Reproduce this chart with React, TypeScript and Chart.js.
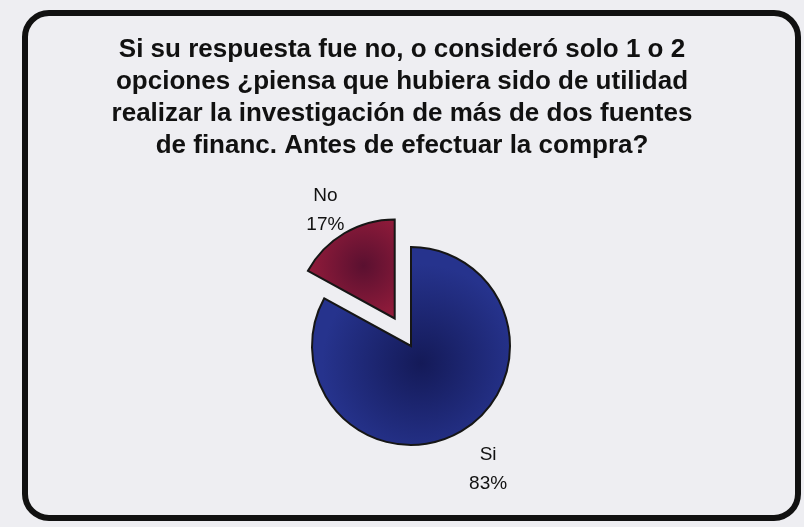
import React, { useEffect, useRef } from "react";
import { Chart, registerables } from "chart.js";

Chart.register(...registerables);

const TITLE_LINES = [
  "Si su respuesta fue no, o consideró solo 1 o 2",
  "opciones ¿piensa que hubiera sido de utilidad",
  "realizar la investigación de más de dos fuentes",
  "de financ. Antes de efectuar la compra?",
];
const CATEGORIES = ["Si", "No"];
const VALUES = [83, 17];
const PERCENT_LABELS = ["83%", "17%"];

const OUTER_COLORS = ["#26338d", "#951c3b"];
const INNER_COLORS = ["#141a58", "#5a1030"];
const EXPLODE = [0, 32];
const RADIUS = 99;

function sliceGeom(chart: any, i: number) {
  const area = chart.chartArea;
  const cx = (area.left + area.right) / 2;
  const cy = (area.top + area.bottom) / 2;
  const data = chart.data.datasets[0].data as number[];
  const total = data.reduce((a, b) => a + b, 0);
  let before = 0;
  for (let k = 0; k < i; k++) before += data[k];
  const a0 = (before / total) * Math.PI * 2;
  const a1 = ((before + data[i]) / total) * Math.PI * 2;
  const mid = (a0 + a1) / 2;
  return { cx, cy, mid, dx: Math.sin(mid), dy: -Math.cos(mid) };
}

const gradientFill = (ctx: any) => {
  const chart = ctx.chart;
  const i = ctx.dataIndex;
  if (!chart.chartArea) return OUTER_COLORS[i];
  const g = sliceGeom(chart, i);
  const f = i === 0 ? 0.2 : 0.62;
  const off = EXPLODE[i];
  const gx = g.cx + g.dx * (off + RADIUS * f);
  const gy = g.cy + g.dy * (off + RADIUS * f);
  const grad = chart.ctx.createRadialGradient(gx, gy, 0, gx, gy, RADIUS * (i === 0 ? 1.0 : 0.6));
  grad.addColorStop(0, INNER_COLORS[i]);
  grad.addColorStop(1, OUTER_COLORS[i]);
  return grad;
};

const explodePlugin = {
  id: "explode",
  afterDatasetsUpdate(chart: any) {
    const meta = chart.getDatasetMeta(0);
    meta.data.forEach((arc: any, i: number) => {
      const d = EXPLODE[i] || 0;
      if (!d) return;
      const mid = (arc.startAngle + arc.endAngle) / 2;
      arc.x += Math.cos(mid) * d;
      arc.y += Math.sin(mid) * d;
    });
  },
};

const decorPlugin = {
  id: "decor",
  beforeDraw(chart: any) {
    const c = chart.ctx;
    c.save();
    c.fillStyle = "#eeeef2";
    c.fillRect(0, 0, chart.width, chart.height);
    const x0 = 25, y0 = 13, x1 = 798, y1 = 518, r = 24;
    c.beginPath();
    c.moveTo(x0 + r, y0);
    c.lineTo(x1 - r, y0);
    c.arcTo(x1, y0, x1, y0 + r, r);
    c.lineTo(x1, y1 - r);
    c.arcTo(x1, y1, x1 - r, y1, r);
    c.lineTo(x0 + r, y1);
    c.arcTo(x0, y1, x0, y1 - r, r);
    c.lineTo(x0, y0 + r);
    c.arcTo(x0, y0, x0 + r, y0, r);
    c.closePath();
    c.lineWidth = 6;
    c.strokeStyle = "#111111";
    c.stroke();
    c.restore();
  },
  afterDraw(chart: any) {
    const c = chart.ctx;
    c.save();
    c.fillStyle = "#111111";
    c.textAlign = "center";
    c.textBaseline = "middle";
    c.font = "bold 26px 'Liberation Sans', Arial, sans-serif";
    TITLE_LINES.forEach((line, k) => {
      c.fillText(line, 402, 50 + k * 32);
    });
    // data labels
    c.font = "19px 'Liberation Sans', Arial, sans-serif";
    const meta = chart.getDatasetMeta(0);
    const labelAngles = [148, null];
    const labelDist = [1.47, 1.3];
    meta.data.forEach((arc: any, i: number) => {
      const g = sliceGeom(chart, i);
      const ang = labelAngles[i] != null ? ((labelAngles[i] as number) * Math.PI) / 180 : g.mid - 0.035;
      const dx = Math.sin(ang), dy = -Math.cos(ang);
      const d = arc.outerRadius * labelDist[i];
      const lx = arc.x + dx * d;
      const ly = arc.y + dy * d;
      c.fillText(CATEGORIES[i], lx, ly - 14.5);
      c.fillText(PERCENT_LABELS[i], lx, ly + 14.5);
    });
    c.restore();
  },
};

export default function App() {
  const ref = useRef<HTMLCanvasElement>(null);
  useEffect(() => {
    if (!ref.current) return;
    const chart = new Chart(ref.current, {
      type: "pie",
      data: {
        labels: CATEGORIES,
        datasets: [
          {
            data: VALUES,
            backgroundColor: gradientFill as any,
            borderColor: "#161616",
            borderWidth: 2,
            borderJoinStyle: "miter",
            radius: RADIUS,
          } as any,
        ],
      },
      options: {
        responsive: false,
        animation: false,
        layout: { padding: { left: 18, top: 165, right: 0, bottom: 0 } },
        plugins: {
          legend: { display: false },
          tooltip: { enabled: false },
          title: { display: false },
        },
      },
      plugins: [explodePlugin, decorPlugin],
    });
    return () => chart.destroy();
  }, []);
  return (
    <div style={{ position: "fixed", left: 0, top: 0, width: 804, height: 527 }}>
      <canvas ref={ref} width={804} height={527} style={{ display: "block" }} />
    </div>
  );
}
